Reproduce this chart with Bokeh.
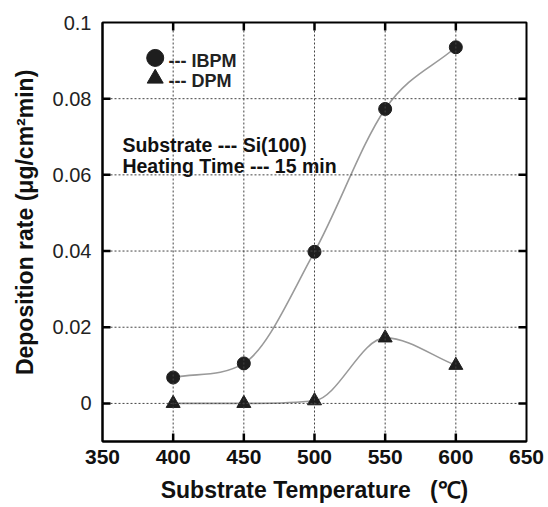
import numpy as np
from bokeh.plotting import figure
from bokeh.models import FixedTicker, NumeralTickFormatter, Label, Range1d, Span, Arrow
from bokeh.embed import file_html
from bokeh.resources import INLINE

# ---- data ----
temperature = [400, 450, 500, 550, 600]
ibpm_rate = [0.0068, 0.0105, 0.0398, 0.0773, 0.0935]
dpm_rate = [0.0, 0.0, 0.0007, 0.0172, 0.0100]
x_ticks = [350, 400, 450, 500, 550, 600, 650]
y_ticks = [0, 0.02, 0.04, 0.06, 0.08, 0.1]
x_limits = (350, 650)
y_limits = (-0.01, 0.1)

FONT = "Liberation Sans"
W, H = 548, 507
BL, BR, BT, BB = 102, 22, 22, 66
TICK_LEN_PX = 8


def smooth_segments(xs, ys):
    """Catmull-Rom tangents with monotonicity limiting -> cubic Bezier segments."""
    x = np.asarray(xs, float)
    y = np.asarray(ys, float)
    h = np.diff(x)
    d = np.diff(y) / h
    n = len(x)
    m = np.zeros(n)
    m[0] = d[0]
    m[-1] = d[-1]
    for i in range(1, n - 1):
        if d[i - 1] * d[i] <= 0:
            m[i] = 0.0
        else:
            cr = (y[i + 1] - y[i - 1]) / (x[i + 1] - x[i - 1])
            lim = 3 * min(abs(d[i - 1]), abs(d[i]))
            m[i] = np.sign(cr) * min(abs(cr), lim)
    return dict(
        x0=x[:-1], y0=y[:-1], x1=x[1:], y1=y[1:],
        cx0=x[:-1] + h / 3, cy0=y[:-1] + m[:-1] * h / 3,
        cx1=x[1:] - h / 3, cy1=y[1:] - m[1:] * h / 3,
    )


p = figure(
    width=W, height=H,
    x_range=Range1d(*x_limits), y_range=Range1d(*y_limits),
    output_backend="svg", toolbar_location=None,
    min_border_left=BL, min_border_right=BR, min_border_top=BT, min_border_bottom=BB,
)
p.background_fill_color = None
p.border_fill_color = None
p.outline_line_color = "black"
p.outline_line_width = 2
p.grid.visible = False

inner_x = [t for t in x_ticks if x_limits[0] < t < x_limits[1]]
inner_y = [t for t in y_ticks if y_limits[0] < t < y_limits[1]]

# dotted grid lines at the inner tick positions
for t in inner_x:
    p.add_layout(Span(location=t, dimension="height", line_color="#444444",
                      line_dash="2 2", line_width=1))
for t in inner_y:
    p.add_layout(Span(location=t, dimension="width", line_color="#444444",
                      line_dash="2 2", line_width=1))

# bottom axis
xa = p.xaxis[0]
xa.ticker = FixedTicker(ticks=x_ticks)
xa.axis_label = "Substrate Temperature\u00a0\u00a0 (\u2103)"
xa.axis_label_text_font = FONT
xa.axis_label_text_font_style = "bold"
xa.axis_label_text_font_size = "23px"
xa.axis_label_text_color = "#111111"
xa.axis_label_standoff = 10
xa.major_label_text_font = FONT
xa.major_label_text_font_style = "bold"
xa.major_label_text_font_size = "21px"
xa.major_label_text_color = "#111111"
xa.major_label_standoff = 8

# left axis
ya = p.yaxis[0]
ya.ticker = FixedTicker(ticks=y_ticks)
ya.formatter = NumeralTickFormatter(format="0.[00]")
ya.axis_label = "\u00a0\u00a0\u00a0Deposition rate (\u03bcg/cm\u00b2min)"
ya.axis_label_text_font = FONT
ya.axis_label_text_font_style = "bold"
ya.axis_label_text_font_size = "23px"
ya.axis_label_text_color = "#111111"
ya.axis_label_standoff = 12
ya.major_label_text_font = FONT
ya.major_label_text_font_style = "normal"
ya.major_label_text_font_size = "20px"
ya.major_label_text_color = "#222222"
ya.major_label_standoff = 11

for ax in (xa, ya):
    ax.axis_line_width = 2
    ax.axis_line_color = "black"
    ax.major_tick_in = 0
    ax.major_tick_out = 0
    ax.minor_tick_line_color = None

# inward tick marks on all four frame edges (head-less arrow annotations)
ux = (x_limits[1] - x_limits[0]) / (W - BL - BR)   # data units per pixel (x)
uy = (y_limits[1] - y_limits[0]) / (H - BT - BB)   # data units per pixel (y)
for edge, sign in ((y_limits[0], 1), (y_limits[1], -1)):
    for t in inner_x:
        p.add_layout(Arrow(start=None, end=None, x_start=t, y_start=edge,
                           x_end=t, y_end=edge + sign * TICK_LEN_PX * uy,
                           line_color="black", line_width=2.5))
for edge, sign in ((x_limits[0], 1), (x_limits[1], -1)):
    for t in inner_y:
        p.add_layout(Arrow(start=None, end=None, x_start=edge, y_start=t,
                           x_end=edge + sign * TICK_LEN_PX * ux, y_end=t,
                           line_color="black", line_width=2.5))

# smooth curves
curve_color = "#9a9a9a"
p.bezier(line_color=curve_color, line_width=1.6, **smooth_segments(temperature, ibpm_rate))
p.bezier(line_color=curve_color, line_width=1.6, **smooth_segments(temperature, dpm_rate))

# markers
p.scatter(temperature, ibpm_rate, marker="circle", size=13,
          fill_color="#1e1e1e", line_color="#1e1e1e")
p.scatter(temperature, dpm_rate, marker="triangle", size=14,
          fill_color="#1e1e1e", line_color="#1e1e1e")

# in-plot legend
p.scatter([387.3], [0.0907], marker="circle", size=17, fill_color="#1e1e1e", line_color="#1e1e1e")
p.scatter([387.3], [0.0853], marker="triangle", size=16, fill_color="#1e1e1e", line_color="#1e1e1e")
for txt, yv in (("--- IBPM", 0.0899), ("--- DPM", 0.0846)):
    p.add_layout(Label(x=396.7, y=yv, text=txt, text_font=FONT, text_font_style="bold",
                       text_font_size="18px", text_color="#222222",
                       text_baseline="alphabetic", text_align="left"))

# annotation text
for txt, yv in (("Substrate --- Si(100)", 0.0679), ("Heating Time --- 15 min", 0.0624)):
    p.add_layout(Label(x=364.1, y=yv, text=txt, text_font=FONT, text_font_style="bold",
                       text_font_size="19.5px", text_color="#111111",
                       text_baseline="alphabetic", text_align="left"))

open("out.html", "w").write(file_html(p, INLINE))
